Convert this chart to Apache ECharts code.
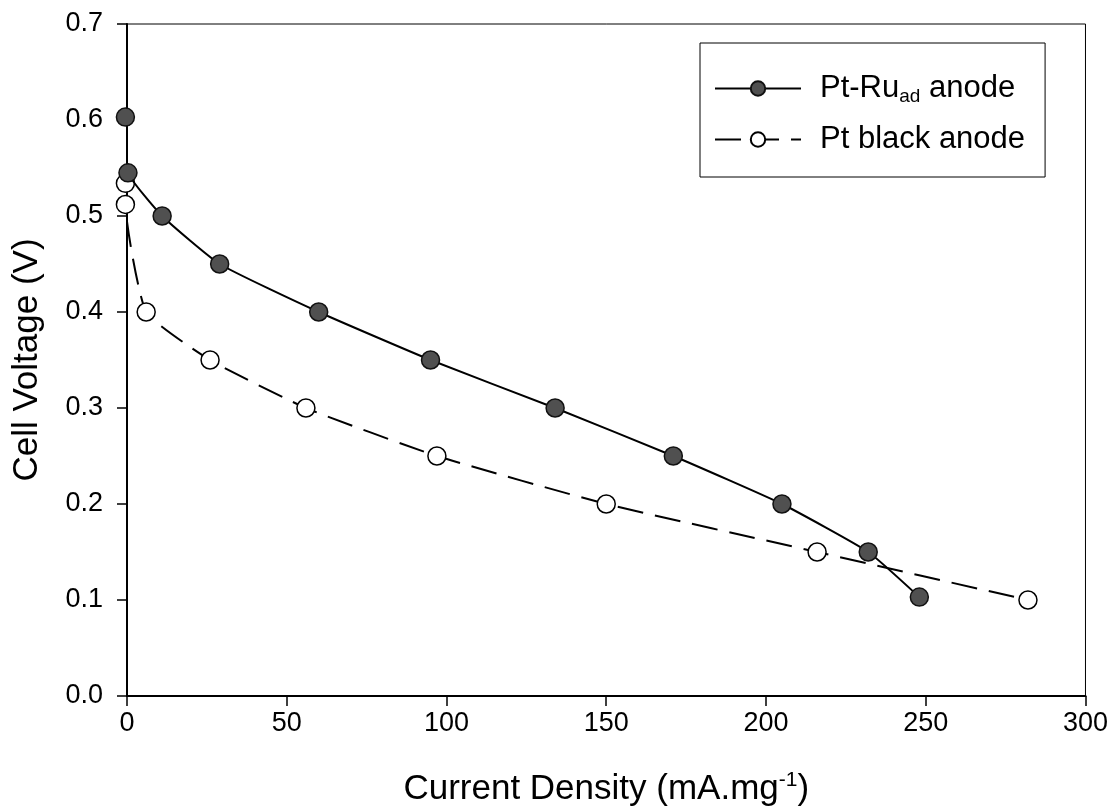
<!DOCTYPE html>
<html>
<head>
<meta charset="utf-8">
<title>Cell Voltage vs Current Density</title>
<script src="https://cdn.jsdelivr.net/npm/echarts@6/dist/echarts.min.js"></script>
<style>
  html, body { margin: 0; padding: 0; background: #fff; }
  #chart { width: 1111px; height: 812px; }
</style>
</head>
<body>
<div id="chart"></div>
<script>
// Pt-Ru_ad anode (filled circles)
const ptRuX = [-0.5, 0.3, 11, 29, 60, 95, 134, 171, 205, 232, 248];
const ptRuY = [0.603, 0.545, 0.50, 0.45, 0.40, 0.35, 0.30, 0.25, 0.20, 0.15, 0.103];
// Pt black anode (open circles)
const ptBlackX = [-0.5, -0.5, 6, 26, 56, 97, 150, 216, 282];
const ptBlackY = [0.534, 0.512, 0.40, 0.35, 0.30, 0.25, 0.20, 0.15, 0.10];

const xTicks = [0, 50, 100, 150, 200, 250, 300];
const yTicks = [0.0, 0.1, 0.2, 0.3, 0.4, 0.5, 0.6, 0.7];

const font = 'Liberation Sans, Arial, sans-serif';
const pairs = (xs, ys) => xs.map((x, i) => [x, ys[i]]);

const chart = echarts.init(document.getElementById('chart'));
chart.setOption({
  animation: false,
  backgroundColor: '#fff',
  grid: {
    left: 127, right: 25, top: 24, bottom: 115,
    show: true, borderColor: '#000', borderWidth: 1
  },
  legend: {
    orient: 'vertical',
    left: 700, top: 43,
    padding: [30, 20, 22, 14],
    itemGap: 18,
    itemWidth: 86, itemHeight: 18,
    borderColor: '#000', borderWidth: 1,
    backgroundColor: '#fff',
    textStyle: {
      fontFamily: font, fontSize: 31, color: '#000',
      rich: {
        f: { fontFamily: font, fontSize: 31, color: '#000', padding: [0, 0, 0, 14] },
        a: { fontFamily: font, fontSize: 31, color: '#000' },
        s: { fontFamily: font, fontSize: 19, color: '#000', padding: [16, 0, 0, 0] }
      }
    },
    formatter: function (name) {
      if (name === 'Pt-Ru') return '{f|Pt-Ru}{s|ad}{a| anode}';
      return '{f|' + name + '}';
    },
    data: ['Pt-Ru', 'Pt black anode']
  },
  xAxis: {
    type: 'value',
    min: xTicks[0], max: xTicks[xTicks.length - 1], interval: 50,
    name: '{a|Current Density (mA.mg}{b|-1}{a|)}',
    nameLocation: 'middle', nameGap: 74,
    nameTextStyle: {
      rich: {
        a: { fontFamily: font, fontSize: 35, color: '#000' },
        b: { fontFamily: font, fontSize: 21, color: '#000', padding: [0, 0, 18, 0] }
      }
    },
    axisLine: { onZero: false, lineStyle: { color: '#000', width: 2 } },
    axisTick: { show: true, inside: false, length: 10, lineStyle: { color: '#000', width: 1.5 } },
    axisLabel: { margin: 14, fontFamily: font, fontSize: 27, color: '#000' },
    splitLine: { show: false }
  },
  yAxis: {
    type: 'value',
    min: yTicks[0], max: yTicks[yTicks.length - 1], interval: 0.1,
    name: 'Cell Voltage (V)',
    nameLocation: 'middle', nameGap: 82,
    nameTextStyle: { fontFamily: font, fontSize: 35, color: '#000' },
    axisLine: { onZero: false, lineStyle: { color: '#000', width: 2 } },
    axisTick: { show: true, inside: false, length: 10, lineStyle: { color: '#000', width: 1.5 } },
    axisLabel: {
      margin: 24, fontFamily: font, fontSize: 27, color: '#000',
      formatter: v => v.toFixed(1)
    },
    splitLine: { show: false }
  },
  series: [
    {
      name: 'Pt-Ru',
      type: 'line',
      data: pairs(ptRuX, ptRuY),
      clip: false,
      smooth: 0.15,
      symbol: 'circle',
      symbolSize: 18,
      lineStyle: { color: '#000', width: 2, type: 'solid' },
      itemStyle: { color: '#505050', borderColor: '#111', borderWidth: 1.5 },
      z: 3
    },
    {
      name: 'Pt black anode',
      type: 'line',
      data: pairs(ptBlackX, ptBlackY),
      clip: false,
      smooth: 0.15,
      symbol: 'circle',
      symbolSize: 18,
      lineStyle: { color: '#000', width: 2, type: [26, 12] },
      itemStyle: { color: '#fff', borderColor: '#000', borderWidth: 1.5 },
      z: 2
    }
  ]
});
</script>
</body>
</html>
